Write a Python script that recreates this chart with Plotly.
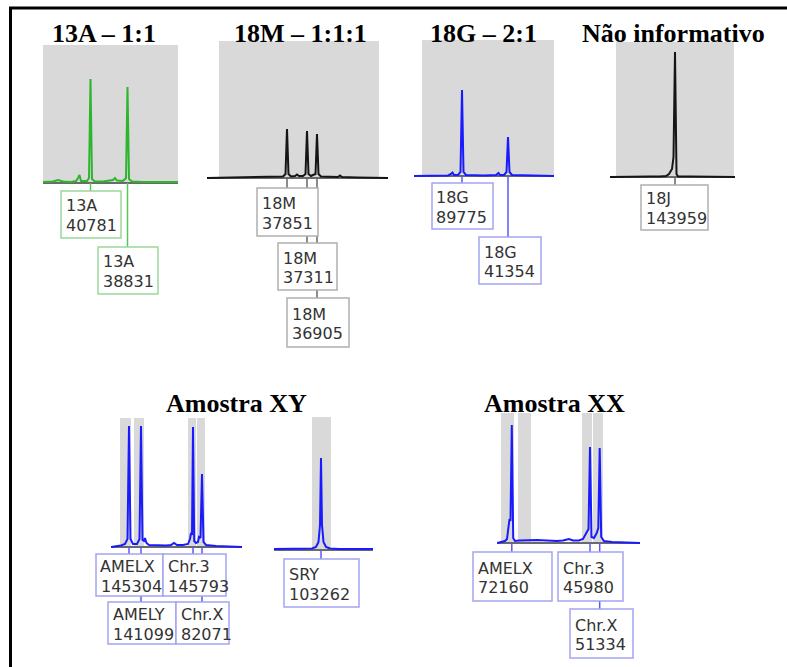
import plotly.graph_objects as go

W, H = 787, 667

# ---------------- data (arbitrary position units / signal units) ----------------
# 13A - 1:1
a13_x = [0, 10, 15, 20, 28, 33, 35, 36.5, 38, 44, 46, 47.5, 49, 52, 60, 66, 70, 72, 74, 80, 83, 84.5, 86, 89, 100, 120, 135]
a13_y = [1, 1.5, 3, 1.5, 1, 2, 5, 8, 2, 2, 5, 104, 4, 1.5, 1.5, 2, 3, 5, 2.5, 2, 5, 96, 4, 1.5, 1, 1, 1]
a13_bins = [[0, 135]]
a13_peaks = [47.5, 84.5]
a13_names = ["13A", "13A"]
a13_values = ["40781", "38831"]

# 18M - 1:1:1
m18_x = [0, 20, 40, 60, 70, 76, 78.5, 80, 81.5, 84, 88, 90, 92, 96, 98.5, 100, 101.5, 104, 106, 108.5, 110, 111.5, 114, 125, 131, 133, 135, 150, 181]
m18_y = [0, 0.5, 0.5, 1, 1, 1.5, 4, 49, 4, 1.5, 2, 3.5, 2, 2, 4, 47, 4, 2, 3, 4, 44, 4, 1.5, 1, 1, 2.5, 1, 0.5, 0]
m18_bins = [[12, 172]]
m18_peaks = [80, 100, 110]
m18_names = ["18M", "18M", "18M"]
m18_values = ["37851", "37311", "36905"]

# 18G - 2:1
g18_x = [0, 20, 34, 37, 38.5, 40, 44, 46.5, 48, 49.5, 52, 70, 82, 84.5, 86, 90, 92.5, 94, 95.5, 98, 110, 140]
g18_y = [0, 0.5, 0.5, 2, 3.5, 1, 1, 4, 86, 4, 1, 0.5, 1, 3, 1, 1, 4, 39, 4, 1, 0.5, 0]
g18_bins = [[8, 140]]
g18_peaks = [48, 94]
g18_names = ["18G", "18G"]
g18_values = ["89775", "41354"]

# Nao informativo (18J)
j18_x = [0, 20, 30, 40, 50, 56, 59, 62, 63.5, 65, 66.5, 68, 80, 100, 125]
j18_y = [0, 0.5, 1, 0.5, 0.5, 1, 3, 8, 20, 125, 3, 0.5, 0.5, 0.5, 0]
j18_bins = [[6, 124]]
j18_peaks = [65]
j18_names = ["18J"]
j18_values = ["143959"]

# Amostra XY - multiplex
xy_x = [0, 5, 10, 14, 16.5, 18, 19.5, 22, 26, 28.5, 30, 31.5, 33, 34, 35.5, 38, 45, 55, 60, 63, 66, 72, 77, 79, 80, 81, 82, 83.2, 85, 87, 88, 89.5, 91, 92.5, 95, 105, 131]
xy_y = [0, 0.5, 1.5, 3, 8, 121, 8, 3, 3, 8, 121, 7, 6, 9, 4, 2, 1.5, 1.5, 2, 4, 2, 2, 3, 8, 14, 12, 120, 6, 4, 5, 10, 9, 73, 5, 2, 1, 0]
xy_bins = [[9, 20], [23, 33], [77, 85], [86, 94]]
xy_peaks = [18, 82, 30, 91]
xy_names = ["AMELX", "Chr.3", "AMELY", "Chr.X"]
xy_values = ["145304", "145793", "141099", "82071"]

# Amostra XY - SRY
sry_x = [0, 20, 30, 38, 42, 44.5, 46, 47, 48, 49.5, 52, 56, 65, 80, 99]
sry_y = [1, 1, 1, 1.5, 3, 8, 25, 92, 25, 8, 3, 1.5, 1, 1, 1]
sry_bins = [[38, 57]]
sry_peaks = [47]
sry_names = ["SRY"]
sry_values = ["103262"]

# Amostra XX
xx_x = [0, 4, 8, 10, 11.5, 12.5, 13.5, 14.8, 16.2, 18, 22, 30, 40, 50, 60, 66, 72, 76, 82, 86, 89.7, 91.5, 93, 94.5, 97, 99.7, 101.3, 102.7, 104.2, 107, 115, 143]
xx_y = [0, 1, 2, 4, 20, 24, 22, 118, 5, 2, 2.5, 3, 3, 2.5, 2, 2.5, 4, 2.5, 2.5, 4, 11, 14, 96, 6, 5, 10, 15, 95, 6, 2, 1, 0]
xx_bins = [[4, 17], [21, 34], [85, 95], [96, 106]]
xx_peaks = [14.8, 93, 102.7]
xx_names = ["AMELX", "Chr.3", "Chr.X"]
xx_values = ["72160", "45980", "51334"]

titles = ["13A – 1:1", "18M – 1:1:1", "18G – 2:1", "Não informativo", "Amostra XY", "Amostra XX"]

# ---------------- layout (pixel geometry & styles) ----------------
GREEN, BLACK, BLUE = "#2db52d", "#151515", "#1a1aff"
G_BOX, K_BOX, B_BOX = "#9bd89b", "#b0b0b0", "#a4a4f2"
G_CON, K_CON, B_CON = "#5cc45c", "#666666", "#5a5af5"

panels = [
    dict(x=a13_x, y=a13_y, bins=a13_bins, peaks=a13_peaks, names=a13_names, values=a13_values,
         left=43, right=178, base=183, top=45, color=GREEN, box=G_BOX, con=G_CON,
         boxes=[(61, 191, 121, 238), (98, 247, 158, 294)]),
    dict(x=m18_x, y=m18_y, bins=m18_bins, peaks=m18_peaks, names=m18_names, values=m18_values,
         left=207, right=388, base=178, top=41, color=BLACK, box=K_BOX, con=K_CON,
         boxes=[(257, 188, 318, 236), (278, 243, 337, 290), (287, 298, 349, 347)]),
    dict(x=g18_x, y=g18_y, bins=g18_bins, peaks=g18_peaks, names=g18_names, values=g18_values,
         left=414, right=554, base=176, top=40, color=BLUE, box=B_BOX, con=B_CON,
         boxes=[(432, 183, 493, 229), (479, 237, 541, 284)]),
    dict(x=j18_x, y=j18_y, bins=j18_bins, peaks=j18_peaks, names=j18_names, values=j18_values,
         left=610, right=735, base=177, top=42, color=BLACK, box=K_BOX, con=K_CON,
         boxes=[(641, 185, 708, 230)]),
    dict(x=xy_x, y=xy_y, bins=xy_bins, peaks=xy_peaks, names=xy_names, values=xy_values,
         left=111, right=242, base=547, top=418, color=BLUE, box=B_BOX, con=B_CON,
         boxes=[(96, 554, 163, 596), (163, 554, 226, 596), (108, 602, 176, 644), (176, 602, 229, 644)]),
    dict(x=sry_x, y=sry_y, bins=sry_bins, peaks=sry_peaks, names=sry_names, values=sry_values,
         left=274, right=373, base=550, top=417, color=BLUE, box=B_BOX, con=B_CON,
         boxes=[(284, 559, 359, 607)]),
    dict(x=xx_x, y=xx_y, bins=xx_bins, peaks=xx_peaks, names=xx_names, values=xx_values,
         left=497, right=640, base=543, top=413, color=BLUE, box=B_BOX, con=B_CON,
         boxes=[(473, 552, 552, 601), (558, 552, 623, 601), (570, 609, 633, 658)]),
]

title_pos = [(103.5, 33), (300, 33), (484, 33), (673, 33), (236, 403), (554.5, 403)]

LABEL_FONT = dict(family="DejaVu Sans, Arial, sans-serif", size=16, color="#333333")
TITLE_FONT = dict(family="Liberation Serif, Times New Roman, serif", size=26, color="black")

fig = go.Figure()
shapes_below, shapes_conn, shapes_box = [], [], []
annotations = []
layout = {}

for i, p in enumerate(panels, start=1):
    sfx = "" if i == 1 else str(i)
    xr, yr = "x" + sfx, "y" + sfx
    bottom = max(b[1] for b in p["boxes"]) + 2
    layout["xaxis" + sfx] = dict(domain=[p["left"] / W, p["right"] / W],
                                 range=[0, p["right"] - p["left"]],
                                 showgrid=False, zeroline=False, showticklabels=False,
                                 ticks="", showline=False, fixedrange=True)
    layout["yaxis" + sfx] = dict(domain=[1 - bottom / H, 1 - p["top"] / H],
                                 range=[-(bottom - p["base"]), p["base"] - p["top"]],
                                 showgrid=False, zeroline=True, zerolinecolor="#6a6a6a",
                                 zerolinewidth=1.5, showticklabels=False, ticks="",
                                 showline=False, fixedrange=True)
    fig.add_trace(go.Scatter(x=p["x"], y=p["y"], mode="lines", xaxis=xr, yaxis=yr,
                             line=dict(color=p["color"], width=2), hoverinfo="skip",
                             showlegend=False))
    for b0, b1 in p["bins"]:
        shapes_below.append(dict(type="rect", xref=xr, yref=yr, x0=b0, x1=b1, y0=0,
                                 y1=p["base"] - p["top"], fillcolor="#d9d9d9",
                                 line=dict(width=0), layer="below"))
    for pk, (l, t, r, b), nm, val in zip(p["peaks"], p["boxes"], p["names"], p["values"]):
        shapes_conn.append(dict(type="line", xref=xr, yref=yr, x0=pk, x1=pk, y0=0,
                                y1=-(t - p["base"]), line=dict(color=p["con"], width=1.5),
                                layer="above"))
        shapes_box.append(dict(type="rect", xref="paper", yref="paper", x0=l / W, x1=r / W,
                               y0=1 - b / H, y1=1 - t / H, fillcolor="white",
                               line=dict(color=p["box"], width=1.5), layer="above"))
        mid = (t + b) / 2
        for txt, off in ((nm, -8.5), (val, 11.0)):
            annotations.append(dict(xref="paper", yref="paper", x=(l + 3.5) / W,
                                    y=1 - (mid + off) / H, xanchor="left", yanchor="middle",
                                    text=txt, showarrow=False, font=LABEL_FONT, borderpad=0))

for txt, (cx, cy) in zip(titles, title_pos):
    annotations.append(dict(xref="paper", yref="paper", x=cx / W, y=1 - cy / H,
                            xanchor="center", yanchor="middle", text="<b>" + txt + "</b>",
                            showarrow=False, font=TITLE_FONT))

frame = [
    dict(type="line", xref="paper", yref="paper", x0=9 / W, x1=1, y0=1 - 8 / H, y1=1 - 8 / H,
         line=dict(color="black", width=3), layer="above"),
    dict(type="line", xref="paper", yref="paper", x0=10.5 / W, x1=10.5 / W, y0=1 - 7 / H, y1=0,
         line=dict(color="black", width=3), layer="above"),
]

fig.update_layout(width=W, height=H, margin=dict(l=0, r=0, t=0, b=0),
                  paper_bgcolor="white", plot_bgcolor="rgba(0,0,0,0)",
                  shapes=shapes_below + shapes_conn + shapes_box + frame,
                  annotations=annotations, showlegend=False, **layout)

fig.write_html("out.html", config=dict(displayModeBar=False))
